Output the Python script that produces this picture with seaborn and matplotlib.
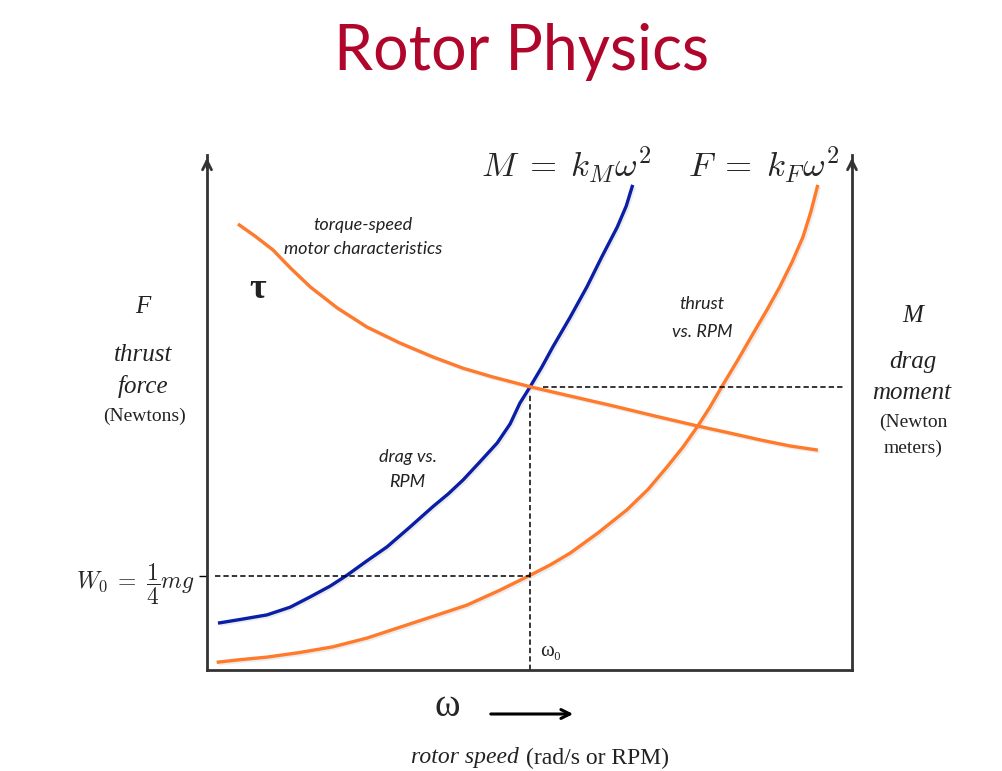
import numpy as np
import matplotlib
matplotlib.use("Agg")
import matplotlib.pyplot as plt
import matplotlib.patheffects as pe
import seaborn as sns

# ==========================================
# DATA (axis units 0..10)
# ==========================================

thrust_w = [0.15, 0.51, 0.93, 1.44, 1.95, 2.48, 2.99, 3.50, 4.03, 4.54, 5.01, 5.32, 5.63, 6.06, 6.51,
            6.84, 7.13, 7.38, 7.60, 7.80, 7.98, 8.23, 8.47, 8.68, 8.88, 9.07, 9.24, 9.36, 9.47]
thrust_f = [0.15, 0.20, 0.25, 0.34, 0.45, 0.62, 0.83, 1.04, 1.26, 1.55, 1.84, 2.04, 2.27, 2.66, 3.11,
            3.51, 3.94, 4.33, 4.72, 5.11, 5.50, 6.02, 6.54, 6.99, 7.44, 7.92, 8.41, 8.89, 9.42]

drag_w = [0.17, 0.51, 0.93, 1.29, 1.60, 1.91, 2.17, 2.48, 2.79, 3.15, 3.50, 3.74, 3.97,
          4.23, 4.50, 4.70, 4.85, 5.01, 5.19, 5.36, 5.63, 5.89, 6.12, 6.36, 6.50, 6.60]
drag_m = [0.91, 0.98, 1.07, 1.22, 1.42, 1.63, 1.84, 2.12, 2.39, 2.78, 3.17, 3.42, 3.69,
          4.04, 4.41, 4.78, 5.18, 5.50, 5.88, 6.27, 6.85, 7.44, 8.02, 8.60, 9.01, 9.42]

torque_w = [0.48, 0.74, 1.02, 1.29, 1.60, 2.02, 2.48, 2.99, 3.50, 3.97, 4.43, 5.01, 5.63, 6.29,
            6.95, 7.60, 8.11, 8.57, 9.04, 9.47]
torque_t = [8.66, 8.43, 8.16, 7.81, 7.44, 7.03, 6.66, 6.35, 6.08, 5.86, 5.69, 5.50, 5.32, 5.13,
            4.93, 4.74, 4.60, 4.47, 4.35, 4.27]

omega0 = 5.01        # hover speed
W0 = 1.83            # quarter of weight
M0 = 5.50            # drag moment at omega0
w0_line_start = 0.12
m0_line_span = [5.21, 9.89]

orange = "#FF7A2A"
blue = "#0A1EA6"
dark = "#333333"
title_red = "#B0062C"

# ==========================================
# FIGURE
# ==========================================

sns.set_style("white")

W, H = 1003, 771
fig = plt.figure(figsize=(W / 100, H / 100), dpi=100)


def fx(x):
    return x / W


def fy(y):
    return 1 - y / H


ax = fig.add_axes([fx(207), fy(670), fx(852) - fx(207), fy(155) - fy(670)])
ax.set_xlim(0, 10)
ax.set_ylim(0, 10)

shadow = [pe.SimpleLineShadow(offset=(1.2, -1.2), alpha=0.15, shadow_color="gray"), pe.Normal()]

for xs, ys, c in [(thrust_w, thrust_f, orange), (drag_w, drag_m, blue), (torque_w, torque_t, orange)]:
    sns.lineplot(x=xs, y=ys, color=c, lw=2.4, ax=ax, sort=False,
                 path_effects=shadow, solid_capstyle="butt", solid_joinstyle="round")

# dashed guides
dash = dict(color="black", lw=1.1, linestyles=(0, (3.5, 2)))
ax.hlines(W0, w0_line_start, omega0, **dash)
ax.vlines(omega0, 0, M0 - 0.16, **dash)
ax.hlines(M0, m0_line_span[0], m0_line_span[1], **dash)

# spines / axes arrows
for s in ["left", "bottom", "right"]:
    ax.spines[s].set_color(dark)
    ax.spines[s].set_linewidth(2.0)
ax.spines["top"].set_visible(False)

for xa in [0, 1]:
    ax.annotate("", xy=(xa, 1.0), xytext=(xa, 0.97), xycoords="axes fraction",
                arrowprops=dict(arrowstyle="->", lw=2.0, color=dark, mutation_scale=16))

ax.set_xticks([])
ax.set_yticks([W0])
ax.set_yticklabels([r"$W_0 \;=\; \dfrac{1}{4}mg$"], fontsize=17)
for lbl in ax.get_yticklabels():
    lbl.set_math_fontfamily("cm")
ax.tick_params(axis="y", direction="out", length=6, width=1, color="black", pad=3, left=True)

# ==========================================
# TEXT
# ==========================================

fig.text(fx(522), fy(52), "Rotor Physics", color=title_red, fontsize=45,
         family="Lato", ha="center", va="center")

fig.text(fx(566), fy(165), r"$M \;=\; k_M\omega^2$", fontsize=25, math_fontfamily="cm",
         ha="center", va="center")
fig.text(fx(764), fy(165), r"$F \;=\; k_F\omega^2$", fontsize=25, math_fontfamily="cm",
         ha="center", va="center")

note = dict(family="Lato", style="italic", fontsize=13, color="#222222", ha="center", va="center")
fig.text(fx(363), fy(225), "torque-speed", **note)
fig.text(fx(363), fy(249), "motor characteristics", **note)
fig.text(fx(702), fy(304), "thrust", **note)
fig.text(fx(702), fy(332), "vs. RPM", **note)
fig.text(fx(408), fy(457), "drag vs.", **note)
fig.text(fx(407), fy(482), "RPM", **note)

serif = ["Liberation Serif", "DejaVu Serif"]
fig.text(fx(258), fy(290), "τ", family=serif, fontsize=26, fontweight="bold",
         ha="center", va="center", color="#222222")

lab = dict(family=serif, fontsize=18, style="italic", ha="center", va="center", color="#222222")
reg = dict(family=serif, fontsize=14, ha="center", va="center", color="#222222")
fig.text(fx(143), fy(307), "F", **lab)
fig.text(fx(143), fy(355), "thrust", **lab)
fig.text(fx(143), fy(387), "force", **lab)
fig.text(fx(145), fy(416), "(Newtons)", **reg)

fig.text(fx(913), fy(316), "M", **lab)
fig.text(fx(913), fy(362), "drag", **lab)
fig.text(fx(912), fy(393), "moment", **lab)
fig.text(fx(913), fy(422), "(Newton", **reg)
fig.text(fx(913), fy(448), "meters)", **reg)

ax.text(omega0 + 0.15, 0.18, "ω₀", family=serif, fontsize=15, ha="left", va="bottom", color="#222222")

fig.text(fx(447), fy(706), "ω", family=serif, fontsize=28, ha="center", va="center")
fig.add_artist(matplotlib.patches.FancyArrowPatch(
    (fx(488), fy(714)), (fx(576), fy(714)), transform=fig.transFigure,
    arrowstyle="->", lw=2.2, color="black", mutation_scale=16))

fig.text(fx(465), fy(758), "rotor speed", family=serif, style="italic", fontsize=17,
         ha="center", va="center", color="#222222")
fig.text(fx(598), fy(758), "(rad/s or RPM)", family=serif, fontsize=17,
         ha="center", va="center", color="#222222")

fig.savefig("out.png", dpi=100)
